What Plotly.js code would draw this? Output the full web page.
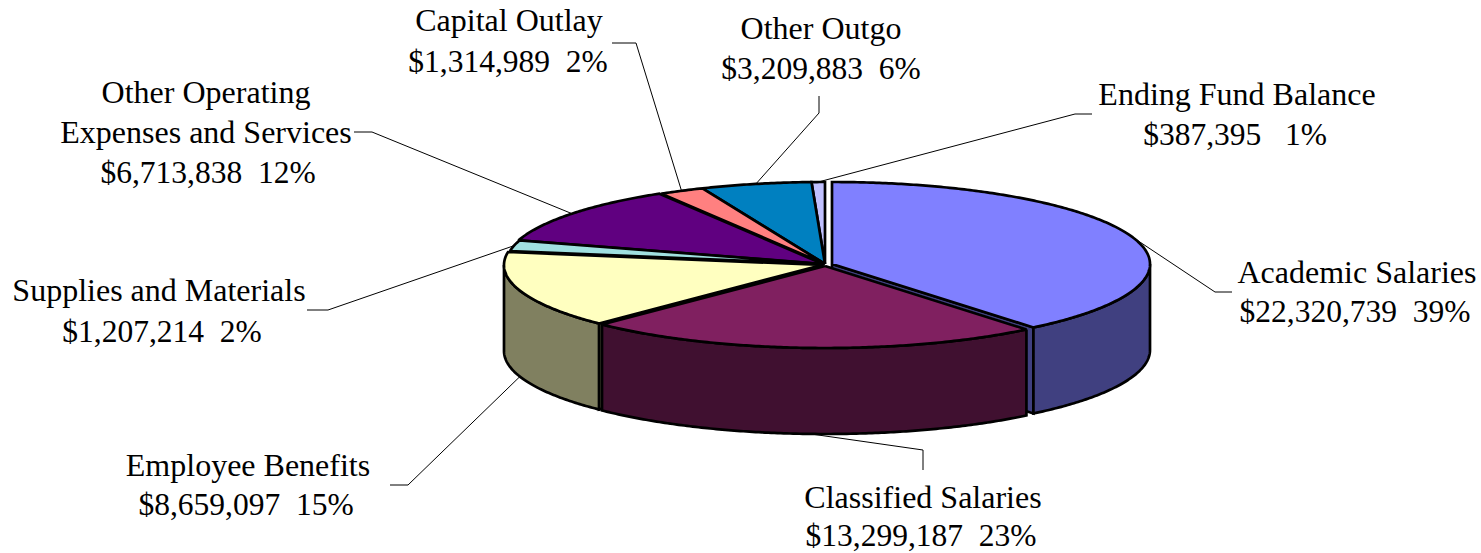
<!DOCTYPE html>
<html>
<head>
<meta charset="utf-8">
<script src="https://cdn.plot.ly/plotly-3.0.1.min.js"></script>
<style>html,body{margin:0;padding:0;background:#fff;}</style>
</head>
<body>
<div id="chart" style="width:1481px;height:553px;"></div>
<script>
// chart values
const categories = ["Academic Salaries","Classified Salaries","Employee Benefits","Supplies and Materials","Other Operating Expenses and Services","Capital Outlay","Other Outgo","Ending Fund Balance"];
const amounts = [22320739,13299187,8659097,1207214,6713838,1314989,3209883,387395];
const amountLabels = ["$22,320,739","$13,299,187","$8,659,097","$1,207,214","$6,713,838","$1,314,989","$3,209,883","$387,395"];
const percentLabels = ["39%","23%","15%","2%","12%","2%","6%","1%"];

// look of each slice
const topColors = ["#8080FF","#802060","#FFFFC0","#A0E0E0","#600080","#FF8080","#0080C0","#C0C0FF"];
const wallColors = ["#404080","#401030","#808060","#507070","#300040","#804040","#004060","#606080"];
const shiftX = [6,-1,-4,-2,-3,-1,-1,-1];
const shiftY = [-1,1,0,-1,-1,-1,-1,-1];
const drawOrder = [7,6,5,4,3,0,2,1]; //back to front

// pie projection, in pixels of the picture
const cx = 826, cy = 265, rx = 318, ry = 82, depth = 86;

// label text lines: [text, center x, center y]
const labelGaps = ["\u00A0\u00A0","\u00A0\u00A0","\u00A0\u00A0","\u00A0\u00A0","\u00A0\u00A0","\u00A0\u00A0","\u00A0\u00A0","\u00A0\u00A0\u00A0"];
const labelLines = [
    [["Academic Salaries",1357,275],[0,1355,314]],
    [["Classified Salaries",923,500],[1,921,538]],
    [["Employee Benefits",248,468],[2,246,507]],
    [["Supplies and Materials",159,293],[3,162,334]],
    [["Other Operating",206,95],["Expenses and Services",206,135],[4,208,175]],
    [["Capital Outlay",509,23],[5,508,64]],
    [["Other Outgo",821,31],[6,821,71]],
    [["Ending Fund Balance",1237,97],[7,1235,137]]
];
// leader elbows after the rim point
const leaderElbows = [
    [[1215,292],[1232,292]],
    [[923,450],[923,470]],
    [[408,485],[390,485]],
    [[328,310],[307,310]],
    [[372,132],[354,132]],
    [[636,43],[612,43]],
    [[819,113],[819,96]],
    [[1075,114],[1092,114]]
];

const total = amounts.reduce((s,a) => s+a, 0);
let startAngles = [], endAngles = [];
let run = 0;
amounts.forEach((a) => {
    startAngles.push(run/total*2*Math.PI);
    run += a;
    endAngles.push(run/total*2*Math.PI);
});

//angle is clockwise from 12 o'clock
function rimPoint(i,angle,down){
    return [cx+shiftX[i]+rx*Math.sin(angle), cy+shiftY[i]-ry*Math.cos(angle)+down];
}

function arcPoints(i,a0,a1,down){
    let pts = [];
    let n = Math.max(2,Math.ceil((a1-a0)/0.01));
    for(let k=0;k<=n;k++){
        pts.push(rimPoint(i,a0+(a1-a0)*k/n,down));
    }
    return pts;
}

function polygon(pts,color){
    return {
        x: pts.map(p => p[0]),
        y: pts.map(p => p[1]),
        type: 'scatter',
        mode: 'lines',
        fill: 'toself',
        fillcolor: color,
        line: {color: '#000', width: 2.7, simplify: false},
        hoverinfo: 'skip',
        showlegend: false
    };
}

//leader lines go under the pie, they start on the rim at the middle of the slice
let traces = [];
categories.forEach((c,i) => {
    const mid = (startAngles[i]+endAngles[i])/2;
    const onFront = mid > Math.PI/2 && mid < 3*Math.PI/2;
    const pts = [rimPoint(i,mid,onFront && i>0 ? depth : 0)].concat(leaderElbows[i]);
    traces.push({
        x: pts.map(p => p[0]),
        y: pts.map(p => p[1]),
        type: 'scatter',
        mode: 'lines',
        line: {color: '#000', width: 1},
        hoverinfo: 'skip',
        showlegend: false
    });
});

drawOrder.forEach((i) => {
    const apex = [cx+shiftX[i], cy+shiftY[i]];
    const a0 = startAngles[i], a1 = endAngles[i];
    //radial cut faces that look toward the viewer
    if(a1 > Math.PI/2 && a1 < Math.PI){
        const e = rimPoint(i,a1,0);
        traces.push(polygon([apex,e,[e[0],e[1]+depth],[apex[0],apex[1]+depth],apex],wallColors[i]));
    }
    if(a0 > Math.PI && a0 < 3*Math.PI/2){
        const s = rimPoint(i,a0,0);
        traces.push(polygon([apex,s,[s[0],s[1]+depth],[apex[0],apex[1]+depth],apex],wallColors[i]));
    }
    //outer wall, only the front half of the rim shows
    const w0 = Math.max(a0,Math.PI/2), w1 = Math.min(a1,3*Math.PI/2);
    if(w1 > w0){
        const upper = arcPoints(i,w0,w1,0);
        const lower = arcPoints(i,w0,w1,depth).reverse();
        traces.push(polygon(upper.concat(lower,[upper[0]]),wallColors[i]));
    }
    //top face
    traces.push(polygon([apex].concat(arcPoints(i,a0,a1,0),[apex]),topColors[i]));
});

//every label line is one text point
let textX = [], textY = [], textLines = [], textSizes = [];
labelLines.forEach((lines) => {
    lines.forEach((l) => {
        const isAmount = typeof l[0] === 'number';
        textLines.push(isAmount ? amountLabels[l[0]]+labelGaps[l[0]]+percentLabels[l[0]] : l[0]);
        textX.push(l[1]);
        textY.push(l[2]);
        textSizes.push(isAmount ? 31.5 : 32);
    });
});
traces.push({
    x: textX,
    y: textY,
    text: textLines,
    type: 'scatter',
    mode: 'text',
    textposition: 'middle center',
    textfont: {family: '"Liberation Serif", serif', size: textSizes, color: '#000'},
    cliponaxis: false,
    hoverinfo: 'skip',
    showlegend: false
});

Plotly.newPlot('chart', traces, {
    width: 1481,
    height: 553,
    margin: {l:0, r:0, t:0, b:0},
    paper_bgcolor: '#fff',
    plot_bgcolor: '#fff',
    showlegend: false,
    xaxis: {range:[0,1481], visible:false, fixedrange:true},
    yaxis: {range:[553,0], visible:false, fixedrange:true}
}, {displayModeBar:false, staticPlot:true});
</script>
</body>
</html>
